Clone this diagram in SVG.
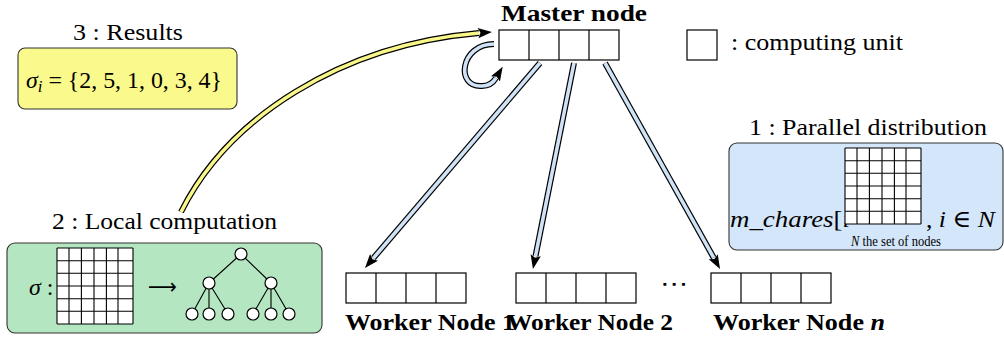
<svg xmlns="http://www.w3.org/2000/svg" width="1004" height="337" viewBox="0 0 1004 337">
<defs>
<style>
text{font-family:"Liberation Serif","Noto Serif","DejaVu Serif",serif;fill:#000}
.lbl{font-size:23px}
.b{font-weight:bold;font-size:23px}
.m{font-style:italic}
.sym{font-family:"DejaVu Sans",sans-serif}
.cell{fill:#fff;stroke:#000;stroke-width:1.2}
.gl{stroke:#000;stroke-width:1.1;fill:none}
.out{fill:none;stroke:#000;stroke-width:6}
.inB{fill:none;stroke:#cfe2f6;stroke-width:3.6}
.inY{fill:none;stroke:#f9f78a;stroke-width:3.6}
.tn{fill:#fff;stroke:#000;stroke-width:1.2}
.te{stroke:#000;stroke-width:1.1}
.box{stroke:#333;stroke-width:1.1}
</style>
<marker id="ah" markerUnits="userSpaceOnUse" markerWidth="20" markerHeight="20" refX="0" refY="0" orient="auto" style="overflow:visible">
<path d="M-1,-5.2 L13,0 L-1,5.2 L1.5,0 z" fill="#000"/>
</marker>
<g id="grid">
<rect x="0" y="0" width="76" height="76" fill="#fff"/>
<path class="gl" d="M0,0V76M12,0V76M24.4,0V76M37,0V76M49.4,0V76M61,0V76M76,0V76M0,0H76M0,12.7H76M0,25.3H76M0,38H76M0,50.7H76M0,63.3H76M0,76H76"/>
</g>
<g id="unit4">
<rect class="cell" x="0" y="0" width="120" height="30"/>
<path class="cell" d="M30,0V30M60,0V30M90,0V30"/>
</g>
</defs>

<g id="results">
<text class="lbl" x="73" y="40" textLength="110" lengthAdjust="spacingAndGlyphs">3 : Results</text>
<rect class="box" x="18" y="48" width="219" height="61" rx="7" fill="#f9f98c"/>
<text x="26" y="88" font-size="24" textLength="196" lengthAdjust="spacingAndGlyphs"><tspan class="m">σ</tspan><tspan class="m" font-size="17" dy="4">i</tspan><tspan dy="-4"> = {2, 5, 1, 0, 3, 4}</tspan></text>
</g>

<g id="local">
<text class="lbl" x="52" y="229" textLength="225" lengthAdjust="spacingAndGlyphs">2 : Local computation</text>
<rect class="box" x="7" y="243" width="315" height="90" rx="8" fill="#b4e6c1"/>
<text x="29" y="295" font-size="24"><tspan class="m">σ</tspan> :</text>
<use href="#grid" x="57" y="248"/>
<text class="sym" x="148" y="294" style="font-size:22px" textLength="29" lengthAdjust="spacingAndGlyphs">⟶</text>
<path class="te" d="M241,254L209,283M241,254L271,283M209,283L192,314M209,283L209,314M209,283L228,314M271,283L253,314M271,283L271,314M271,283L289,314"/>
<circle class="tn" cx="241" cy="254" r="6"/>
<circle class="tn" cx="209" cy="283" r="6"/>
<circle class="tn" cx="271" cy="283" r="6"/>
<circle class="tn" cx="192" cy="314" r="6"/>
<circle class="tn" cx="209" cy="314" r="6"/>
<circle class="tn" cx="228" cy="314" r="6"/>
<circle class="tn" cx="253" cy="314" r="6"/>
<circle class="tn" cx="271" cy="314" r="6"/>
<circle class="tn" cx="289" cy="314" r="6"/>
</g>

<g id="distribution">
<text class="lbl" x="749" y="135" textLength="238" lengthAdjust="spacingAndGlyphs">1 : Parallel distribution</text>
<rect class="box" x="729" y="143" width="274" height="107" rx="8" fill="#d4e6fa"/>
<text x="730" y="227" font-size="24" textLength="120" lengthAdjust="spacingAndGlyphs"><tspan class="m">m</tspan>_<tspan class="m">chares</tspan>[<tspan class="m">i</tspan></text>
<use href="#grid" x="845" y="148"/>
<text x="926" y="227" font-size="24" textLength="69" lengthAdjust="spacingAndGlyphs">, <tspan class="m">i</tspan> ∈ <tspan class="m">N</tspan></text>
<text x="851" y="246" font-size="15" textLength="90" lengthAdjust="spacingAndGlyphs"><tspan class="m">N</tspan> the set of nodes</text>
</g>

<g id="master">
<text class="b" x="501" y="21" textLength="146" lengthAdjust="spacingAndGlyphs">Master node</text>
<use href="#unit4" x="499" y="30"/>
</g>

<g id="legend">
<rect class="cell" x="687" y="30" width="30" height="30"/>
<text class="lbl" x="731" y="50" textLength="172" lengthAdjust="spacingAndGlyphs">: computing unit</text>
</g>

<g id="worker1">
<use href="#unit4" x="346" y="273"/>
<text class="b" x="345" y="330" textLength="170" lengthAdjust="spacingAndGlyphs">Worker Node 1</text>
</g>
<g id="worker2">
<use href="#unit4" x="516" y="273"/>
<text class="b" x="507" y="330" textLength="166" lengthAdjust="spacingAndGlyphs">Worker Node 2</text>
</g>
<g id="dots">
<text class="sym" x="660" y="291" style="font-size:22px" textLength="28" lengthAdjust="spacingAndGlyphs">⋯</text>
</g>
<g id="workern">
<use href="#unit4" x="711" y="273"/>
<text class="b" x="713" y="330" textLength="172" lengthAdjust="spacingAndGlyphs">Worker Node <tspan class="m">n</tspan></text>
</g>

<g id="connectors">
<path class="out" d="M181,212 C228,118 340,45 479,33" marker-end="url(#ah)"/>
<path class="inY" d="M181,212 C228,118 340,45 479,33"/>
<path class="out" d="M494,44 C460,44 455,88 482,86 C488,86 493,83 496,78" marker-end="url(#ah)"/>
<path class="inB" d="M494,44 C460,44 455,88 482,86 C488,86 493,83 496,78"/>
<path class="out" d="M540,63 L373.4,258.1" marker-end="url(#ah)"/>
<path class="inB" d="M540,63 L373.4,258.1"/>
<path class="out" d="M574,63 L535.5,256.2" marker-end="url(#ah)"/>
<path class="inB" d="M574,63 L535.5,256.2"/>
<path class="out" d="M605,63 L713.7,257.7" marker-end="url(#ah)"/>
<path class="inB" d="M605,63 L713.7,257.7"/>
</g>
</svg>
